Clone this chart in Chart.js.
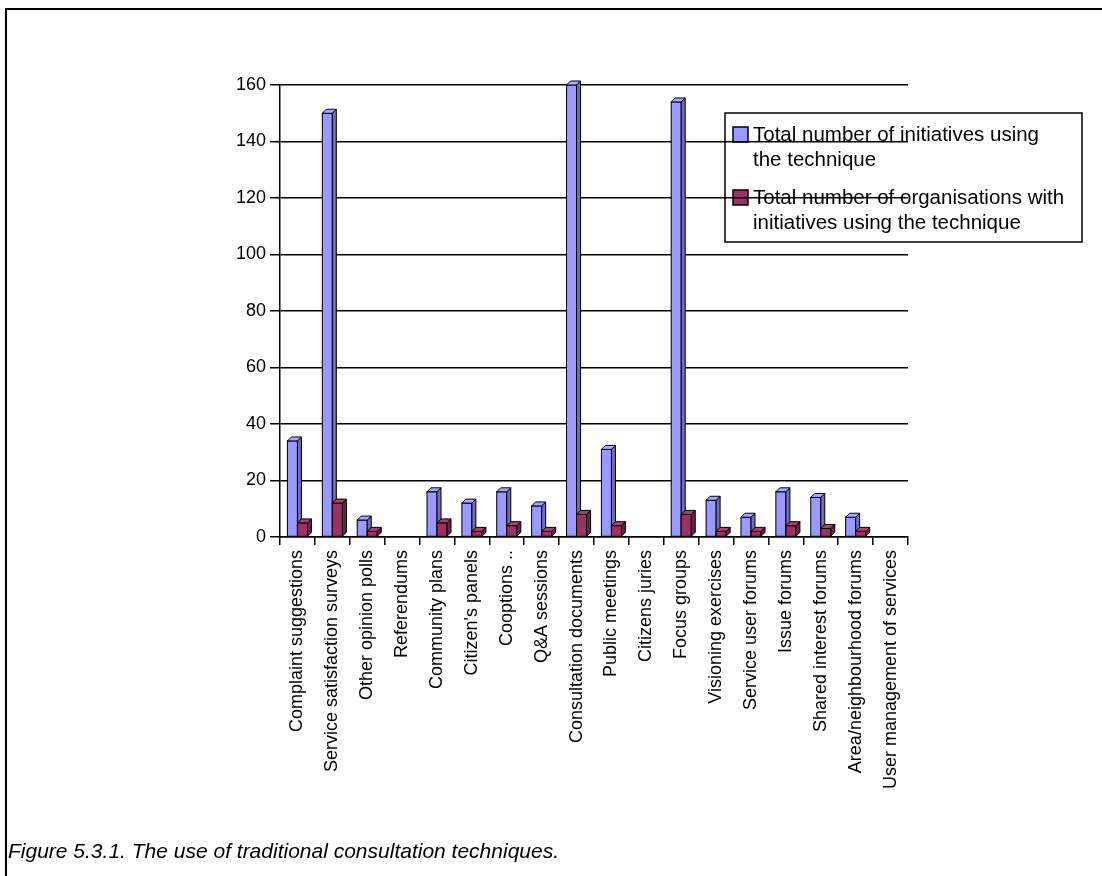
<!DOCTYPE html>
<html>
<head>
<meta charset="utf-8">
<title>Figure 5.3.1</title>
<script src="https://cdn.jsdelivr.net/npm/chart.js@4/dist/chart.umd.min.js"></script>
<style>
  html, body { margin: 0; padding: 0; background: #fff; }
  body { width: 1102px; height: 876px; position: relative; overflow: hidden;
         font-family: "Liberation Sans", Arial, sans-serif; }
  #frame { position: absolute; left: 5px; top: 8px; width: 1300px; height: 1000px;
           border-left: 2px solid #000; border-top: 2px solid #000; }
  #wrap { position: absolute; left: 0; top: 0; width: 1102px; height: 876px; }
  #caption { position: absolute; left: 8px; top: 839px; font-style: italic;
             font-size: 21px; color: #000; white-space: nowrap; }
</style>
</head>
<body>
<div id="frame"></div>
<div id="wrap"><canvas id="chart" width="1102" height="876"></canvas></div>
<div id="caption">Figure 5.3.1. The use of traditional consultation techniques.</div>
<script>
// Consultation techniques on the category axis
const categories = [
  "Complaint suggestions", "Service satisfaction surveys", "Other opinion polls",
  "Referendums", "Community plans", "Citizen's panels", "Cooptions ..",
  "Q&A sessions", "Consultation documents", "Public meetings", "Citizens juries",
  "Focus groups", "Visioning exercises", "Service user forums", "Issue forums",
  "Shared interest forums", "Area/neighbourhood forums", "User management of services"
];

// Number of initiatives using each technique
const initiatives = [34, 150, 6, 0, 16, 12, 16, 11, 160, 31, 0, 154, 13, 7, 16, 14, 7, 0];

// Number of organisations with initiatives using each technique
const organisations = [5, 12, 2, 0, 5, 2, 4, 2, 8, 4, 0, 8, 2, 2, 4, 3, 2, 0];

// Value axis
const yMin = 0;
const yMax = 160;
const yStep = 20;

// Series names, and how they break over lines in the legend box
const seriesNames = [
  "Total number of initiatives using the technique",
  "Total number of organisations with initiatives using the technique"
];
const legendLines = [
  ["Total number of initiatives using", "the technique"],
  ["Total number of organisations with", "initiatives using the technique"]
];

const frontColours = ["#9999ff", "#993366"];
const sideColours  = ["#6d6dc4", "#6a2246"];
const topColours   = ["#a8a8ff", "#a8406f"];

const FONT = "'Liberation Sans', Arial, sans-serif";
const DEPTH = 4;

// Draws each column as a small 3-D block: front, right side and top,
// category by category so neighbouring columns overlap correctly.
const blocks3d = {
  id: 'blocks3d',
  afterDatasetsDraw(chart) {
    const ctx = chart.ctx;
    const metas = chart.data.datasets.map((d, i) => chart.getDatasetMeta(i));
    ctx.save();
    ctx.lineWidth = 1;
    ctx.strokeStyle = '#000';
    for (let j = 0; j < categories.length; j++) {
      metas.forEach((meta, i) => {
        const el = meta.data[j];
        if (!el) return;
        const p = el.getProps(['x', 'y', 'base', 'width'], true);
        if (Math.abs(p.base - p.y) < 0.5) return;
        const l = p.x - p.width / 2, r = p.x + p.width / 2;
        const t = Math.min(p.y, p.base), b = Math.max(p.y, p.base);
        ctx.fillStyle = frontColours[i];
        ctx.fillRect(l, t, r - l, b - t);
        ctx.strokeRect(l, t, r - l, b - t);
        ctx.beginPath();
        ctx.moveTo(r, t); ctx.lineTo(r + DEPTH, t - DEPTH);
        ctx.lineTo(r + DEPTH, b - DEPTH); ctx.lineTo(r, b); ctx.closePath();
        ctx.fillStyle = sideColours[i]; ctx.fill(); ctx.stroke();
        ctx.beginPath();
        ctx.moveTo(l, t); ctx.lineTo(l + DEPTH, t - DEPTH);
        ctx.lineTo(r + DEPTH, t - DEPTH); ctx.lineTo(r, t); ctx.closePath();
        ctx.fillStyle = topColours[i]; ctx.fill(); ctx.stroke();
      });
    }
    ctx.restore();
  }
};

// Legend box, painted before the grid so the gridlines run across it.
const legendBox = {
  id: 'legendBox',
  beforeDraw(chart) {
    const ctx = chart.ctx;
    const ca = chart.chartArea;
    const x0 = ca.right - 183, y0 = 113, w = 357, h = 129;
    ctx.save();
    ctx.fillStyle = '#fff';
    ctx.fillRect(x0, y0, w, h);
    ctx.lineWidth = 1.5;
    ctx.strokeStyle = '#000';
    ctx.strokeRect(x0, y0, w, h);
    ctx.font = "20.5px " + FONT;
    ctx.textBaseline = 'middle';
    ctx.textAlign = 'left';
    const entryTop = [y0 + 22, y0 + 85];
    legendLines.forEach((lines, i) => {
      const cy = entryTop[i];
      ctx.fillStyle = frontColours[i];
      ctx.fillRect(x0 + 8, cy - 8, 15, 15);
      ctx.strokeRect(x0 + 8, cy - 8, 15, 15);
      ctx.fillStyle = '#000';
      lines.forEach((ln, k) => ctx.fillText(ln, x0 + 28, cy + k * 25));
    });
    ctx.restore();
  }
};

new Chart(document.getElementById('chart'), {
  type: 'bar',
  data: {
    labels: categories,
    datasets: [
      { label: seriesNames[0], data: initiatives, backgroundColor: frontColours[0],
        borderColor: '#000', borderWidth: 1 },
      { label: seriesNames[1], data: organisations, backgroundColor: frontColours[1],
        borderColor: '#000', borderWidth: 1 }
    ]
  },
  options: {
    responsive: false,
    animation: false,
    devicePixelRatio: 1,
    categoryPercentage: 0.575,
    barPercentage: 1,
    layout: { padding: { left: 0, top: 85, right: 194, bottom: 0 } },
    plugins: {
      legend: { display: false },
      tooltip: { enabled: false },
      title: { display: false }
    },
    scales: {
      x: {
        offset: true,
        grid: { offset: true, drawOnChartArea: false, color: '#000', lineWidth: 1.5, tickLength: 8 },
        border: { color: '#000', width: 1.5 },
        ticks: { autoSkip: false, minRotation: 90, maxRotation: 90, padding: 5,
                 color: '#000', font: { family: FONT, size: 18 } },
        afterFit(scale) { scale.height = 876 - 537; }
      },
      y: {
        min: yMin, max: yMax,
        grid: { color: '#000', lineWidth: 1.5, tickLength: 10 },
        border: { color: '#000', width: 1.5 },
        ticks: { stepSize: yStep, padding: 4, color: '#000', font: { family: FONT, size: 18 } },
        afterFit(scale) { scale.width = 280; }
      }
    }
  },
  plugins: [legendBox, blocks3d]
});
</script>
</body>
</html>
